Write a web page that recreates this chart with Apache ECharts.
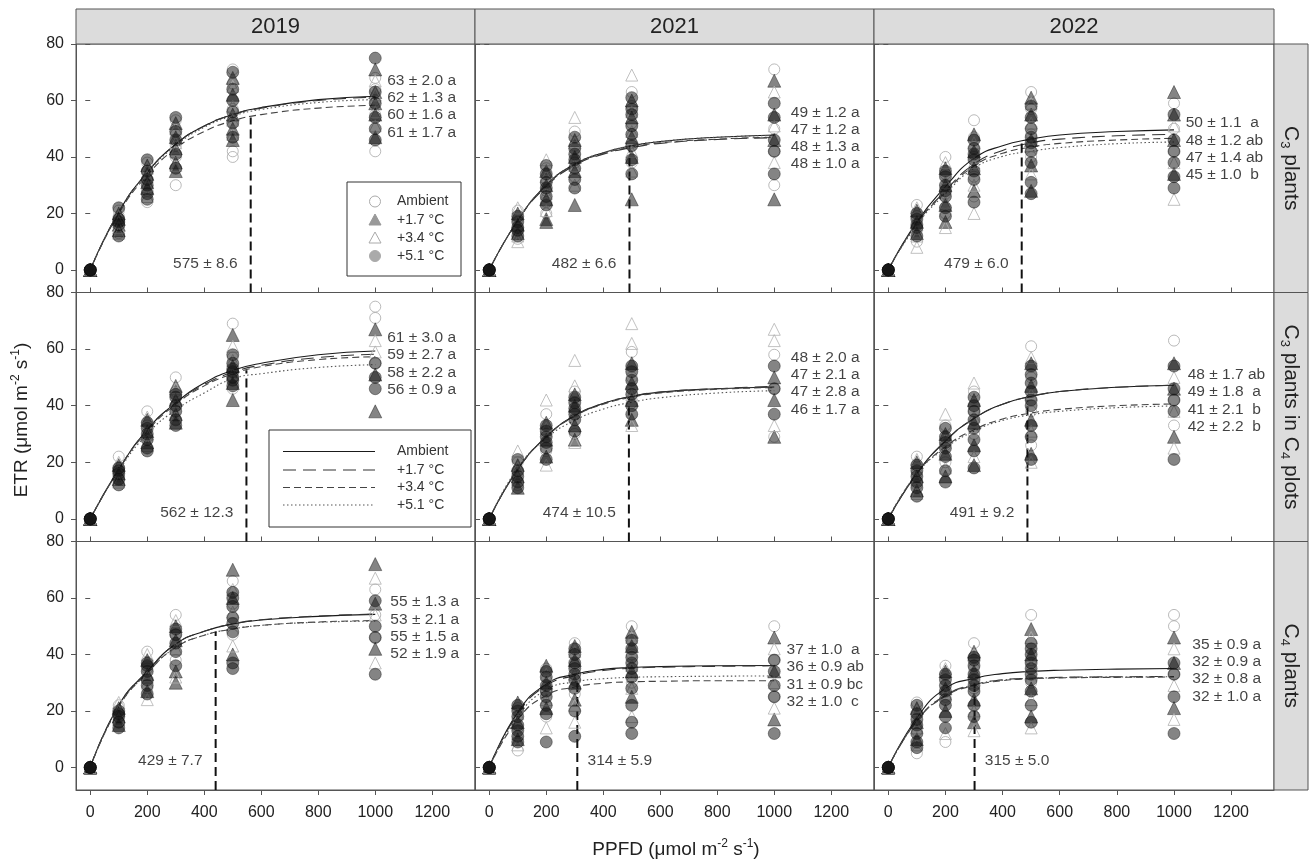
<!DOCTYPE html>
<html>
<head>
<meta charset="utf-8">
<script src="https://cdn.jsdelivr.net/npm/echarts@6/dist/echarts.min.js"></script>
<style>
html, body { margin: 0; padding: 0; background: #fff; }
#main { width: 1309px; height: 863px; }
</style>
</head>
<body>
<div id="main"></div>
<script>
// ---- data ----
var years = ['2019', '2021', '2022'];
var groups = ['C{sub|3} plants', 'C{sub|3} plants in C{sub|4} plots', 'C{sub|4} plants'];
var treatments = ['Ambient', '+1.7 °C', '+3.4 °C', '+5.1 °C'];
var ppfd = [0, 100, 200, 300, 500, 1000];
var fitPpfd = [0, 100, 200, 300, 400, 500, 600, 800, 1000];
var xTicks = [0, 200, 400, 600, 800, 1000, 1200];
var yTicks = [0, 20, 40, 60, 80];

// ETR readings per PPFD level (one list per level in ppfd order)
var pts_c3_19_amb = [[0], [21, 19, 17, 15, 13], [38, 35, 32, 28, 24], [53, 48, 44, 40, 30], [71, 66, 57, 42, 40], [68, 64, 60, 55, 42]];
var pts_c3_19_w17 = [[0, 0, 0, 0, 0], [20, 18, 16, 14], [37, 34, 31, 29], [52, 47, 43, 38, 35], [68, 62, 55, 50, 46], [71, 63, 59, 55, 47]];
var pts_c3_19_w34 = [[0], [19, 17, 15, 13], [36, 33, 30, 26], [50, 45, 42, 37], [65, 58, 53, 48], [67, 62, 56, 51]];
var pts_c3_19_w51 = [[0, 0, 0, 0, 0], [22, 18, 17, 16, 12], [39, 35, 32, 30, 27, 25], [54, 49, 46, 41, 36], [70, 64, 60, 56, 52, 47], [75, 63, 59, 54, 50, 46]];

var pts_c3_21_amb = [[0], [21, 18, 14, 11], [36, 32, 28, 24, 20], [49, 44, 38, 33], [63, 58, 52, 45, 38], [71, 50, 42, 30]];
var pts_c3_21_w17 = [[0, 0, 0, 0, 0], [20, 16, 13], [35, 30, 25, 18, 17], [46, 40, 35, 23], [60, 54, 47, 40, 25], [67, 55, 46, 25]];
var pts_c3_21_w34 = [[0], [22, 17, 12, 10], [39, 33, 27, 21], [54, 45, 37, 30], [69, 56, 49, 42, 35], [63, 51, 38]];
var pts_c3_21_w51 = [[0, 0, 0, 0, 0], [19, 17, 15, 14, 12], [37, 34, 31, 29, 26, 23], [47, 43, 41, 39, 36, 32, 29], [61, 57, 55, 51, 48, 44, 39, 34], [59, 54, 46, 42, 34]];

var pts_c3_22_amb = [[0], [23, 19, 14, 10], [40, 34, 27, 20], [53, 47, 40, 33, 26], [63, 57, 48, 40], [59, 50, 42]];
var pts_c3_22_w17 = [[0, 0, 0, 0, 0], [21, 17, 13], [36, 30, 23, 17], [48, 42, 36, 28], [61, 55, 46, 37, 28], [63, 55, 46, 34]];
var pts_c3_22_w34 = [[0], [22, 16, 12, 8], [38, 31, 24, 15], [45, 38, 30, 20], [59, 52, 44, 34], [51, 38, 25]];
var pts_c3_22_w51 = [[0, 0, 0, 0, 0], [20, 18, 16, 15, 12], [35, 33, 30, 28, 26, 22, 19], [46, 43, 41, 39, 35, 32, 24], [58, 54, 50, 47, 45, 42, 38, 31, 27], [55, 46, 42, 38, 33, 29]];

var pts_c3c4_19_amb = [[0], [22, 18, 15], [38, 33, 29], [50, 45, 40], [69, 57, 50, 46], [75, 71, 55]];
var pts_c3c4_19_w17 = [[0, 0, 0, 0, 0], [19, 16, 14], [35, 31, 27], [47, 42, 37, 34], [65, 54, 48, 42], [67, 51, 38]];
var pts_c3c4_19_w34 = [[0], [20, 17, 13], [36, 30, 26], [46, 41, 36], [61, 56, 51], [63, 59]];
var pts_c3c4_19_w51 = [[0, 0, 0, 0, 0], [18, 17, 16, 14, 12], [34, 32, 30, 28, 25, 24], [44, 43, 40, 38, 35, 33], [58, 55, 53, 52, 50, 49, 47], [55, 50, 46]];

var pts_c3c4_21_amb = [[0], [20, 16, 12], [37, 30, 24], [45, 38, 30], [59, 50, 41], [58, 46, 29]];
var pts_c3c4_21_w17 = [[0, 0, 0, 0, 0], [19, 15, 11], [34, 28, 22], [44, 40, 33, 28], [55, 48, 42, 35], [50, 42, 29]];
var pts_c3c4_21_w34 = [[0], [24, 18, 14], [42, 32, 19], [56, 47, 27], [69, 62, 44, 33], [67, 63, 33]];
var pts_c3c4_21_w51 = [[0, 0, 0, 0, 0], [21, 17, 15, 13, 11], [33, 31, 29, 27, 25, 21], [43, 41, 39, 37, 35, 31], [54, 52, 49, 46, 44, 40, 37], [54, 46, 37]];

var pts_c3c4_22_amb = [[0], [22, 16, 12], [33, 26, 20], [45, 38, 30], [61, 50, 38, 26], [63, 42, 33]];
var pts_c3c4_22_w17 = [[0, 0, 0, 0, 0], [20, 15, 10], [30, 23, 15], [42, 34, 26, 19], [55, 47, 35, 23], [55, 46, 29]];
var pts_c3c4_22_w34 = [[0], [21, 14, 9], [37, 28, 18], [48, 36, 22], [57, 44, 31, 20], [50, 38, 25]];
var pts_c3c4_22_w51 = [[0, 0, 0, 0, 0], [19, 17, 15, 13, 11, 8], [32, 29, 27, 25, 22, 17, 13], [43, 40, 38, 35, 32, 28, 24, 18], [54, 51, 48, 45, 42, 40, 33, 29, 21], [54, 46, 42, 38, 21]];

var pts_c4_19_amb = [[0], [22, 19, 16], [41, 35, 28], [54, 47, 38], [66, 58, 47], [63, 54, 46]];
var pts_c4_19_w17 = [[0, 0, 0, 0, 0], [21, 18, 15], [38, 33, 27], [50, 45, 34, 30], [70, 60, 40], [72, 58, 42]];
var pts_c4_19_w34 = [[0], [23, 20, 17], [40, 32, 24], [52, 42, 32], [63, 55, 43], [67, 54, 37]];
var pts_c4_19_w51 = [[0, 0, 0, 0, 0], [20, 19, 18, 16, 14], [37, 36, 34, 31, 29, 26], [49, 47, 44, 41, 36], [62, 60, 57, 53, 51, 48, 37, 35], [59, 50, 46, 33]];

var pts_c4_21_amb = [[0], [21, 14, 6], [35, 27, 18], [44, 36, 26], [50, 40, 30], [50, 38, 25]];
var pts_c4_21_w17 = [[0, 0, 0, 0, 0], [23, 16, 10], [36, 30, 21], [43, 38, 30, 24], [48, 43, 34, 25], [46, 34, 17]];
var pts_c4_21_w34 = [[0], [19, 12, 8], [33, 24, 14], [41, 33, 22, 16], [46, 36, 28, 18], [42, 30, 21]];
var pts_c4_21_w51 = [[0, 0, 0, 0, 0], [22, 20, 18, 15, 13, 11, 9], [34, 32, 29, 27, 25, 22, 19, 9], [42, 40, 37, 35, 33, 31, 28, 20, 11], [45, 42, 39, 37, 35, 32, 28, 22, 16, 12], [38, 34, 29, 25, 12]];

var pts_c4_22_amb = [[0], [23, 13, 5], [36, 25, 9], [44, 35, 28], [54, 38, 30], [54, 50, 33]];
var pts_c4_22_w17 = [[0, 0, 0, 0, 0], [21, 16, 10], [34, 28, 20], [41, 34, 24, 16], [49, 40, 28, 18], [46, 37, 21]];
var pts_c4_22_w34 = [[0], [20, 14, 8], [35, 26, 12], [40, 30, 20, 13], [46, 36, 24, 14], [42, 29, 17]];
var pts_c4_22_w51 = [[0, 0, 0, 0, 0], [22, 19, 17, 15, 12, 9, 7], [33, 31, 29, 27, 24, 22, 18, 14], [39, 38, 36, 33, 31, 29, 27, 22, 18], [44, 42, 40, 37, 35, 33, 31, 27, 22, 16], [37, 33, 25, 12]];

// fitted light-response curves, read at fitPpfd
var fit_c3_19_amb = [0, 20.5, 34.5, 44.5, 51, 55, 57.5, 60.3, 61.5];
var fit_c3_19_w17 = [0, 20.5, 34.5, 44.5, 51, 55, 57.3, 60, 61.2];
var fit_c3_19_w34 = [0, 20, 33.5, 43, 49, 52.8, 55, 57.3, 58.3];
var fit_c3_19_w51 = [0, 20.5, 34.3, 44, 50.5, 54.5, 56.8, 59.3, 60.3];

var fit_c3_21_amb = [0, 17.5, 30, 37.5, 41.5, 44, 45.5, 47, 47.8];
var fit_c3_21_w17 = [0, 17.5, 29.5, 37, 41, 43.3, 44.8, 46.2, 46.8];
var fit_c3_21_w34 = [0, 17.5, 29.8, 37.2, 41.2, 43.5, 45, 46.3, 47];
var fit_c3_21_w51 = [0, 17.5, 30, 37.5, 41.5, 44, 45.5, 47, 47.6];

var fit_c3_22_amb = [0, 17, 29.5, 39.5, 44, 46.3, 47.8, 49, 49.6];
var fit_c3_22_w17 = [0, 16.5, 28, 37.5, 42.3, 45, 46.3, 47.5, 48];
var fit_c3_22_w34 = [0, 16.5, 27.5, 36.8, 41.3, 43.5, 44.8, 46, 46.6];
var fit_c3_22_w51 = [0, 16, 27, 36, 40.2, 42, 43.3, 44.7, 45.3];

var fit_c3c4_19_amb = [0, 17.5, 31.5, 41, 48, 52.5, 55, 58, 59.3];
var fit_c3c4_19_w17 = [0, 17.5, 31.5, 41, 47.5, 51.8, 54.3, 57, 58.2];
var fit_c3c4_19_w34 = [0, 17.5, 31, 40.5, 47, 51.2, 53.8, 56.3, 57.3];
var fit_c3c4_19_w51 = [0, 17, 30, 38.5, 44.5, 49.5, 51.3, 53.5, 54.5];

var fit_c3c4_21_amb = [0, 17.5, 29, 36.5, 40.8, 43.3, 44.8, 46, 46.6];
var fit_c3c4_21_w17 = [0, 17.5, 29, 36.5, 40.8, 43.3, 44.8, 46, 46.8];
var fit_c3c4_21_w34 = [0, 17.5, 29, 36.3, 40.5, 43, 44.5, 45.8, 46.4];
var fit_c3c4_21_w51 = [0, 18, 28.5, 34.8, 38.8, 41.2, 42.8, 44.5, 45.3];

var fit_c3c4_22_amb = [0, 16, 27.5, 35.5, 40.5, 43.3, 45, 46.5, 47.2];
var fit_c3c4_22_w17 = [0, 16, 27.5, 35.5, 40.5, 43.3, 45, 46.5, 47.2];
var fit_c3c4_22_w34 = [0, 16, 25.5, 31.5, 35.3, 37.4, 38.7, 40, 40.6];
var fit_c3c4_22_w51 = [0, 16, 25, 31, 34.8, 36.8, 38, 39.3, 39.9];

var fit_c4_19_amb = [0, 22, 34, 43.7, 48.2, 50.8, 52.2, 53.5, 54.2];
var fit_c4_19_w17 = [0, 22, 34, 43.7, 48.2, 50.8, 52.3, 53.6, 54.3];
var fit_c4_19_w34 = [0, 21.5, 33.5, 42.5, 46.8, 49, 50.3, 51.5, 52];
var fit_c4_19_w51 = [0, 21.5, 33.5, 42.5, 46.8, 49, 50.3, 51.4, 51.8];

var fit_c4_21_amb = [0, 19.5, 29.5, 33, 34.7, 35.4, 35.7, 36, 36.1];
var fit_c4_21_w17 = [0, 19, 29, 32.5, 34.3, 35.1, 35.5, 35.8, 36];
var fit_c4_21_w34 = [0, 17, 25.5, 28.5, 29.8, 30.3, 30.5, 30.7, 30.7];
var fit_c4_21_w51 = [0, 18, 27.5, 30.3, 31.4, 31.9, 32.1, 32.3, 32.4];

var fit_c4_22_amb = [0, 17.5, 28, 31.5, 33.2, 34, 34.4, 34.8, 35];
var fit_c4_22_w17 = [0, 16.5, 25.5, 29.3, 31, 31.6, 31.9, 32.1, 32.2];
var fit_c4_22_w34 = [0, 16.5, 25.2, 29, 30.7, 31.4, 31.7, 31.9, 32];
var fit_c4_22_w51 = [0, 16.5, 25.5, 29.2, 30.9, 31.5, 31.8, 32, 32.1];

// ETRmax ± SE with letters (Ambient, +1.7, +3.4, +5.1)
var stats_c3_19 = ['63 ± 2.0 a', '62 ± 1.3 a', '60 ± 1.6 a', '61 ± 1.7 a'];
var stats_c3_21 = ['49 ± 1.2 a', '47 ± 1.2 a', '48 ± 1.3 a', '48 ± 1.0 a'];
var stats_c3_22 = ['50 ± 1.1  a', '48 ± 1.2 ab', '47 ± 1.4 ab', '45 ± 1.0  b'];
var stats_c3c4_19 = ['61 ± 3.0 a', '59 ± 2.7 a', '58 ± 2.2 a', '56 ± 0.9 a'];
var stats_c3c4_21 = ['48 ± 2.0 a', '47 ± 2.1 a', '47 ± 2.8 a', '46 ± 1.7 a'];
var stats_c3c4_22 = ['48 ± 1.7 ab', '49 ± 1.8  a', '41 ± 2.1  b', '42 ± 2.2  b'];
var stats_c4_19 = ['55 ± 1.3 a', '53 ± 2.1 a', '55 ± 1.5 a', '52 ± 1.9 a'];
var stats_c4_21 = ['37 ± 1.0  a', '36 ± 0.9 ab', '31 ± 0.9 bc', '32 ± 1.0  c'];
var stats_c4_22 = ['35 ± 0.9 a', '32 ± 0.9 a', '32 ± 0.8 a', '32 ± 1.0 a'];

// Ik (saturation PPFD) labels, drawn line position and line top
var ikText = ['575 ± 8.6', '482 ± 6.6', '479 ± 6.0', '562 ± 12.3', '474 ± 10.5', '491 ± 9.2', '429 ± 7.7', '314 ± 5.9', '315 ± 5.0'];
var ikLineX = [563, 492, 467, 548, 490, 487, 440, 309, 302];
var ikLineTop = [54, 44, 45, 52.5, 43, 42, 48, 30, 30];

// ---- layout ----
var colLeft = [76, 475, 874], colWidth = [399, 399, 400];
var rowTop = [44, 292.5, 541.5], rowHeight = [248.5, 249, 248.5];
var statsAt = [[1042, 67], [1058, 55.8], [1041, 52], [1042, 64], [1058, 57], [1048, 50.9], [1053, 58.5], [1043, 41.6], [1064, 43.5]];
var ikRightOfLine = [false, false, false, false, false, false, false, true, true];
var FONT = '"Liberation Sans", Arial, sans-serif';

var panelPts = [
    [pts_c3_19_amb, pts_c3_19_w17, pts_c3_19_w34, pts_c3_19_w51],
    [pts_c3_21_amb, pts_c3_21_w17, pts_c3_21_w34, pts_c3_21_w51],
    [pts_c3_22_amb, pts_c3_22_w17, pts_c3_22_w34, pts_c3_22_w51],
    [pts_c3c4_19_amb, pts_c3c4_19_w17, pts_c3c4_19_w34, pts_c3c4_19_w51],
    [pts_c3c4_21_amb, pts_c3c4_21_w17, pts_c3c4_21_w34, pts_c3c4_21_w51],
    [pts_c3c4_22_amb, pts_c3c4_22_w17, pts_c3c4_22_w34, pts_c3c4_22_w51],
    [pts_c4_19_amb, pts_c4_19_w17, pts_c4_19_w34, pts_c4_19_w51],
    [pts_c4_21_amb, pts_c4_21_w17, pts_c4_21_w34, pts_c4_21_w51],
    [pts_c4_22_amb, pts_c4_22_w17, pts_c4_22_w34, pts_c4_22_w51]
];
var panelFit = [
    [fit_c3_19_amb, fit_c3_19_w17, fit_c3_19_w34, fit_c3_19_w51],
    [fit_c3_21_amb, fit_c3_21_w17, fit_c3_21_w34, fit_c3_21_w51],
    [fit_c3_22_amb, fit_c3_22_w17, fit_c3_22_w34, fit_c3_22_w51],
    [fit_c3c4_19_amb, fit_c3c4_19_w17, fit_c3c4_19_w34, fit_c3c4_19_w51],
    [fit_c3c4_21_amb, fit_c3c4_21_w17, fit_c3c4_21_w34, fit_c3c4_21_w51],
    [fit_c3c4_22_amb, fit_c3c4_22_w17, fit_c3c4_22_w34, fit_c3c4_22_w51],
    [fit_c4_19_amb, fit_c4_19_w17, fit_c4_19_w34, fit_c4_19_w51],
    [fit_c4_21_amb, fit_c4_21_w17, fit_c4_21_w34, fit_c4_21_w51],
    [fit_c4_22_amb, fit_c4_22_w17, fit_c4_22_w34, fit_c4_22_w51]
];
var panelStats = [stats_c3_19, stats_c3_21, stats_c3_22, stats_c3c4_19, stats_c3c4_21, stats_c3c4_22, stats_c4_19, stats_c4_21, stats_c4_22];

// symbol look per treatment
var symbols = [
    { symbol: 'circle', size: 11, itemStyle: { color: 'rgba(255,255,255,0)', borderColor: '#a9a9a9', borderWidth: 1 } },
    { symbol: 'triangle', size: 13, itemStyle: { color: 'rgba(20,20,20,0.66)', borderColor: 'rgba(15,15,15,0.66)', borderWidth: 0.8 } },
    { symbol: 'triangle', size: 12, itemStyle: { color: 'rgba(255,255,255,0)', borderColor: '#b2b2b2', borderWidth: 1 } },
    { symbol: 'circle', size: 12, itemStyle: { color: 'rgba(20,20,20,0.66)', borderColor: 'rgba(15,15,15,0.66)', borderWidth: 0.8 } }
];
var curveStyles = [
    { type: 'solid', color: '#1a1a1a', width: 1.1 },
    { type: [13, 7], color: '#333', width: 1.1 },
    { type: [7, 4], color: '#444', width: 1.1 },
    { type: [1.5, 2.5], color: '#555', width: 1.1 }
];

var grids = [], xAxes = [], yAxes = [], series = [];

function plainNum(v) { return String(v); }

for (var i = 0; i < 9; i++) {
    var r = Math.floor(i / 3), c = i % 3;
    grids.push({
        left: colLeft[c], top: rowTop[r], width: colWidth[c], height: rowHeight[r],
        show: true, borderColor: '#555', borderWidth: 1, backgroundColor: '#fff',
        containLabel: false, outerBoundsMode: 'none'
    });
    xAxes.push({
        gridIndex: i, type: 'value', min: -50, max: 1350,
        axisLine: { show: true, onZero: false, lineStyle: { color: '#555' } },
        splitLine: { show: false },
        axisTick: { show: true, inside: r < 2, length: 5, customValues: xTicks, lineStyle: { color: '#555' } },
        axisLabel: { show: r === 2, customValues: xTicks, formatter: plainNum, fontSize: 16, color: '#222', margin: 15, fontFamily: FONT }
    });
    yAxes.push({
        gridIndex: i, type: 'value', min: -8, max: 80,
        axisLine: { show: true, onZero: false, lineStyle: { color: '#555' } },
        splitLine: { show: false },
        axisTick: { show: true, inside: c > 0, length: 5, customValues: yTicks, lineStyle: { color: '#555' } },
        axisLabel: { show: c === 0, customValues: yTicks, formatter: plainNum, fontSize: 16, color: '#222', margin: 12, fontFamily: FONT }
    });

    // fitted curves
    for (var t = 0; t < 4; t++) {
        var fit = panelFit[i][t];
        series.push({
            type: 'line', xAxisIndex: i, yAxisIndex: i, z: 2,
            data: fitPpfd.map(function (x, k) { return [x, fit[k]]; }),
            showSymbol: false, symbol: 'none', smooth: 0.5,
            lineStyle: curveStyles[t], silent: true
        });
    }

    // Ik dashed line
    series.push({
        type: 'line', xAxisIndex: i, yAxisIndex: i, z: 2, symbol: 'none', silent: true,
        data: [[ikLineX[i], -8], [ikLineX[i], ikLineTop[i]]],
        lineStyle: { type: [9, 5], color: '#111', width: 2 }
    });

    // points
    for (var t2 = 0; t2 < 4; t2++) {
        var levels = panelPts[i][t2];
        var data = [];
        levels.forEach(function (vals, j) {
            vals.forEach(function (v) { data.push([ppfd[j], v]); });
        });
        series.push({
            type: 'scatter', xAxisIndex: i, yAxisIndex: i, z: 3, silent: true,
            symbol: symbols[t2].symbol, symbolSize: symbols[t2].size,
            itemStyle: symbols[t2].itemStyle, data: data
        });
    }

    // ETRmax annotation
    var st = panelStats[i];
    series.push({
        type: 'scatter', xAxisIndex: i, yAxisIndex: i, z: 4, silent: true, symbolSize: 0,
        data: st.map(function (s, k) { return { name: s, value: [statsAt[i][0], statsAt[i][1] - k * 6.1] }; }),
        label: { show: true, position: 'right', distance: 0, formatter: '{b}', fontSize: 15.5, color: '#111', fontFamily: FONT }
    });

    // Ik annotation
    var right = ikRightOfLine[i];
    series.push({
        type: 'scatter', xAxisIndex: i, yAxisIndex: i, z: 4, silent: true, symbolSize: 0,
        data: [{ name: ikText[i], value: [ikLineX[i] + (right ? 36 : -46), 2.2] }],
        label: { show: true, position: right ? 'right' : 'left', distance: 0, formatter: '{b}', fontSize: 15.5, color: '#111', fontFamily: FONT }
    });
}

// right-side inner ticks
for (var i2 = 0; i2 < 9; i2++) {
    yAxes.push({
        gridIndex: i2, type: 'value', min: -8, max: 80, position: 'right',
        axisLine: { show: false }, splitLine: { show: false }, axisLabel: { show: false },
        axisTick: { show: true, inside: true, length: 5, customValues: yTicks, lineStyle: { color: '#555' } }
    });
}

// ---- strips, titles, legends ----
var graphics = [];
years.forEach(function (y, c) {
    graphics.push({
        type: 'rect', z: 100, shape: { x: colLeft[c], y: 9, width: colWidth[c], height: 35 },
        style: { fill: '#dcdcdc', stroke: '#555', lineWidth: 1 }
    });
    graphics.push({
        type: 'text', z: 101, x: colLeft[c] + colWidth[c] / 2, y: 27,
        style: { text: y, fontSize: 22, fontFamily: FONT, fill: '#222', align: 'center', verticalAlign: 'middle' }
    });
});
groups.forEach(function (g, r) {
    graphics.push({
        type: 'rect', z: 100, shape: { x: 1274, y: rowTop[r], width: 34, height: rowHeight[r] },
        style: { fill: '#dcdcdc', stroke: '#555', lineWidth: 1 }
    });
    graphics.push({
        type: 'text', z: 101, x: 1291, y: rowTop[r] + rowHeight[r] / 2, rotation: -Math.PI / 2,
        style: {
            text: g, fontSize: 21, fontFamily: FONT, fill: '#222', align: 'center', verticalAlign: 'middle', lineHeight: 26,
            rich: { sub: { fontSize: 13, fontFamily: FONT, verticalAlign: 'bottom', lineHeight: 26 } }
        }
    });
});
graphics.push({
    type: 'text', z: 101, x: 22, y: 420, rotation: Math.PI / 2,
    style: {
        text: 'ETR (μmol m{sup|-2} s{sup|-1})', fontSize: 19, fontFamily: FONT, fill: '#222',
        align: 'center', verticalAlign: 'middle', lineHeight: 24,
        rich: { sup: { fontSize: 12, fontFamily: FONT, verticalAlign: 'top', lineHeight: 24 } }
    }
});
graphics.push({
    type: 'text', z: 101, x: 676, y: 850,
    style: {
        text: 'PPFD (μmol m{sup|-2} s{sup|-1})', fontSize: 19, fontFamily: FONT, fill: '#222',
        align: 'center', verticalAlign: 'middle', lineHeight: 24,
        rich: { sup: { fontSize: 12, fontFamily: FONT, verticalAlign: 'top', lineHeight: 24 } }
    }
});

// symbol legend (top-left panel)
var legRowsA = [201.5, 220, 238, 256];
graphics.push({ type: 'rect', z: 100, shape: { x: 347, y: 182, width: 114, height: 94 }, style: { fill: '#fff', stroke: '#333', lineWidth: 1 } });
graphics.push({ type: 'circle', z: 101, shape: { cx: 375, cy: legRowsA[0], r: 5.5 }, style: { fill: 'none', stroke: '#aaa', lineWidth: 1 } });
graphics.push({ type: 'polygon', z: 101, shape: { points: [[375, legRowsA[1] - 6], [369, legRowsA[1] + 5], [381, legRowsA[1] + 5]] }, style: { fill: '#999', stroke: '#999' } });
graphics.push({ type: 'polygon', z: 101, shape: { points: [[375, legRowsA[2] - 6], [369, legRowsA[2] + 5], [381, legRowsA[2] + 5]] }, style: { fill: 'none', stroke: '#aaa' } });
graphics.push({ type: 'circle', z: 101, shape: { cx: 375, cy: legRowsA[3], r: 5.5 }, style: { fill: '#aaa', stroke: '#aaa' } });
treatments.forEach(function (t, k) {
    graphics.push({ type: 'text', z: 101, x: 397, y: legRowsA[k], style: { text: t, fontSize: 14, fontFamily: FONT, fill: '#333', align: 'left', verticalAlign: 'middle' } });
});

// line legend (middle-left panel)
var legRowsB = [451.5, 470, 487.5, 505];
graphics.push({ type: 'rect', z: 100, shape: { x: 269, y: 430, width: 202, height: 97 }, style: { fill: '#fff', stroke: '#333', lineWidth: 1 } });
treatments.forEach(function (t, k) {
    graphics.push({
        type: 'line', z: 101, shape: { x1: 283, y1: legRowsB[k], x2: 375, y2: legRowsB[k] },
        style: { stroke: curveStyles[k].color, lineWidth: 1.1, lineDash: curveStyles[k].type === 'solid' ? null : curveStyles[k].type }
    });
    graphics.push({ type: 'text', z: 101, x: 397, y: legRowsB[k], style: { text: t, fontSize: 14, fontFamily: FONT, fill: '#333', align: 'left', verticalAlign: 'middle' } });
});

var myChart = echarts.init(document.getElementById('main'), null, { renderer: 'canvas' });
myChart.setOption({
    animation: false,
    backgroundColor: '#fff',
    textStyle: { fontFamily: FONT },
    grid: grids,
    xAxis: xAxes,
    yAxis: yAxes,
    series: series,
    graphic: graphics
});
</script>
</body>
</html>
